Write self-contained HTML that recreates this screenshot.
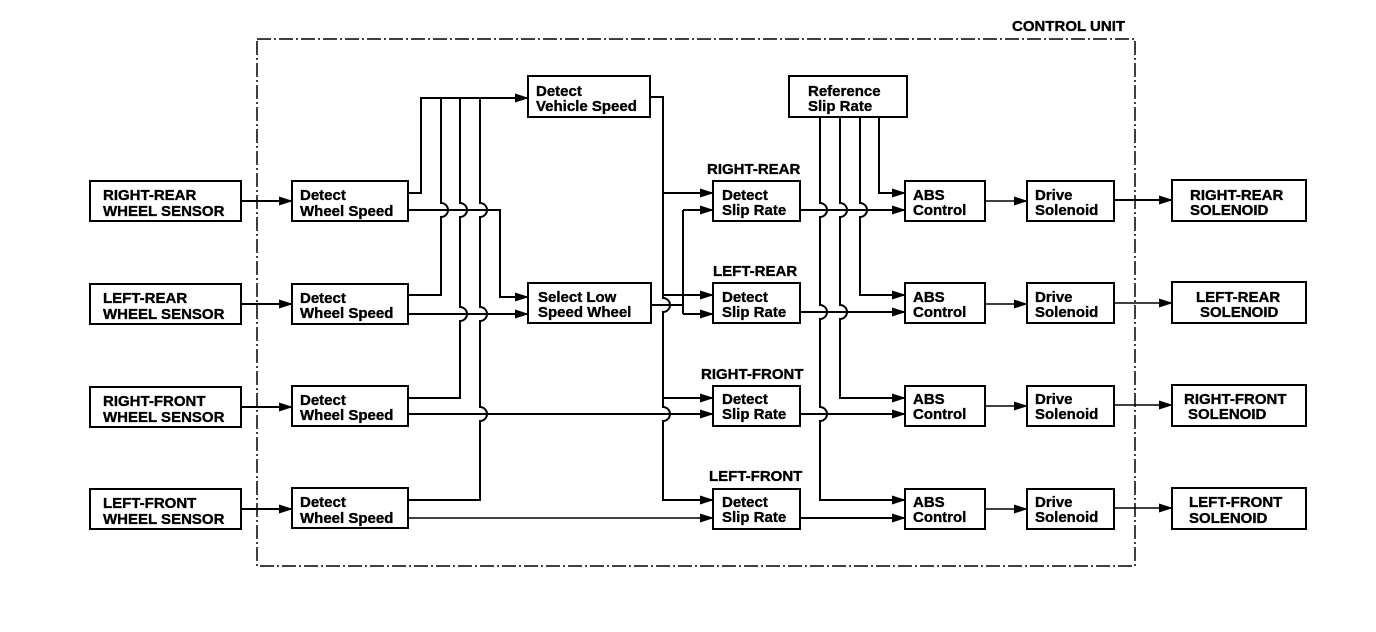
<!DOCTYPE html>
<html><head><meta charset="utf-8"><style>
html,body{margin:0;padding:0;background:#fff;}
svg{display:block;}
text{font-family:"Liberation Sans",sans-serif;font-weight:bold;font-size:15px;fill:#000;stroke:#000;stroke-width:0.35;}
</style></head><body>
<svg width="1376" height="632" viewBox="0 0 1376 632" xmlns="http://www.w3.org/2000/svg">
<defs>
<marker id="a" markerWidth="14" markerHeight="9" refX="13" refY="4.5" orient="auto" markerUnits="userSpaceOnUse">
<path d="M0,0 L14,4.5 L0,9 Z" fill="#000"/>
</marker>
</defs>
<rect x="257" y="39" width="878" height="527" fill="none" stroke="#000" stroke-width="1.5" stroke-dasharray="14,3,2,3"/>
<text x="1012" y="31">CONTROL UNIT</text>

<g fill="#fff" stroke="#000" stroke-width="2">
<rect x="90" y="181" width="151" height="40"/>
<rect x="90" y="284" width="151" height="40"/>
<rect x="90" y="387" width="151" height="40"/>
<rect x="90" y="489" width="151" height="40"/>
<rect x="292" y="181" width="116" height="40"/>
<rect x="292" y="284" width="116" height="40"/>
<rect x="292" y="386" width="116" height="40"/>
<rect x="292" y="488" width="116" height="40"/>
<rect x="528" y="76" width="122" height="41"/>
<rect x="528" y="283" width="123" height="40"/>
<rect x="789" y="76" width="118" height="41"/>
<rect x="713" y="181" width="87" height="40"/>
<rect x="713" y="283" width="87" height="40"/>
<rect x="713" y="386" width="87" height="40"/>
<rect x="713" y="489" width="87" height="40"/>
<rect x="905" y="181" width="80" height="40"/>
<rect x="905" y="283" width="80" height="40"/>
<rect x="905" y="386" width="80" height="40"/>
<rect x="905" y="489" width="80" height="40"/>
<rect x="1027" y="181" width="87" height="40"/>
<rect x="1027" y="283" width="87" height="40"/>
<rect x="1027" y="386" width="87" height="40"/>
<rect x="1027" y="489" width="87" height="40"/>
<rect x="1172" y="180" width="134" height="41"/>
<rect x="1172" y="282" width="134" height="41"/>
<rect x="1172" y="385" width="134" height="41"/>
<rect x="1172" y="488" width="134" height="41"/>
</g>

<g fill="none" stroke="#000" stroke-width="2">
<path d="M241 201H292" marker-end="url(#a)"/>
<path d="M241 304H292" marker-end="url(#a)"/>
<path d="M241 407H292" marker-end="url(#a)"/>
<path d="M241 509H292" marker-end="url(#a)"/>
<path d="M408 193H421V98H528" marker-end="url(#a)"/>
<path d="M408 295H441V217A7 7 0 0 0 441 203V98"/>
<path d="M408 398H460V321A7 7 0 0 0 460 307V217A7 7 0 0 0 460 203V98"/>
<path d="M408 500H480V421A7 7 0 0 0 480 407V321A7 7 0 0 0 480 307V217A7 7 0 0 0 480 203V98"/>
<path d="M408 210H500V297H528" marker-end="url(#a)"/>
<path d="M408 314H528" marker-end="url(#a)"/>
<path d="M408 414H713" marker-end="url(#a)"/>
<path d="M408 518H713" marker-end="url(#a)" stroke-width="1.5"/>
<path d="M650 97H663V298A7 7 0 0 1 663 312V407A7 7 0 0 1 663 421V500H713" marker-end="url(#a)"/>
<path d="M663 193H713" marker-end="url(#a)"/>
<path d="M663 295H713" marker-end="url(#a)"/>
<path d="M663 398H713" marker-end="url(#a)"/>
<path d="M651 305H683"/>
<path d="M683 210V314"/>
<path d="M683 210H713" marker-end="url(#a)"/>
<path d="M683 314H713" marker-end="url(#a)"/>
<path d="M800 210H905" marker-end="url(#a)"/>
<path d="M800 312H905" marker-end="url(#a)"/>
<path d="M800 414H905" marker-end="url(#a)"/>
<path d="M800 518H905" marker-end="url(#a)"/>
<path d="M879 117V193H905" marker-end="url(#a)"/>
<path d="M860 117V203A7 7 0 0 1 860 217V295H905" marker-end="url(#a)"/>
<path d="M840 117V203A7 7 0 0 1 840 217V305A7 7 0 0 1 840 319V398H905" marker-end="url(#a)"/>
<path d="M820 117V203A7 7 0 0 1 820 217V305A7 7 0 0 1 820 319V407A7 7 0 0 1 820 421V500H905" marker-end="url(#a)"/>
<path d="M985 201H1027" marker-end="url(#a)" stroke-width="1.5"/>
<path d="M985 304H1027" marker-end="url(#a)" stroke-width="1.5"/>
<path d="M985 406H1027" marker-end="url(#a)" stroke-width="1.5"/>
<path d="M985 509H1027" marker-end="url(#a)" stroke-width="1.5"/>
<path d="M1114 200H1172" marker-end="url(#a)"/>
<path d="M1114 303H1172" marker-end="url(#a)" stroke-width="1.5"/>
<path d="M1114 405H1172" marker-end="url(#a)" stroke-width="1.5"/>
<path d="M1114 508H1172" marker-end="url(#a)" stroke-width="1.5"/>
</g>

<g>
<text x="103" y="200">RIGHT-REAR</text><text x="103" y="216">WHEEL SENSOR</text>
<text x="103" y="303">LEFT-REAR</text><text x="103" y="319">WHEEL SENSOR</text>
<text x="103" y="406">RIGHT-FRONT</text><text x="103" y="422">WHEEL SENSOR</text>
<text x="103" y="508">LEFT-FRONT</text><text x="103" y="524">WHEEL SENSOR</text>

<text x="300" y="200">Detect</text><text x="300" y="216">Wheel Speed</text>
<text x="300" y="303">Detect</text><text x="300" y="318">Wheel Speed</text>
<text x="300" y="405">Detect</text><text x="300" y="420">Wheel Speed</text>
<text x="300" y="507">Detect</text><text x="300" y="523">Wheel Speed</text>

<text x="536" y="96">Detect</text><text x="536" y="111">Vehicle Speed</text>
<text x="538" y="302">Select Low</text><text x="538" y="317">Speed Wheel</text>
<text x="808" y="96">Reference</text><text x="808" y="111">Slip Rate</text>

<text x="707" y="174">RIGHT-REAR</text>
<text x="713" y="276">LEFT-REAR</text>
<text x="701" y="379">RIGHT-FRONT</text>
<text x="709" y="481">LEFT-FRONT</text>

<text x="722" y="200">Detect</text><text x="722" y="215">Slip Rate</text>
<text x="722" y="302">Detect</text><text x="722" y="317">Slip Rate</text>
<text x="722" y="404">Detect</text><text x="722" y="419">Slip Rate</text>
<text x="722" y="507">Detect</text><text x="722" y="522">Slip Rate</text>

<text x="913" y="200">ABS</text><text x="913" y="215">Control</text>
<text x="913" y="302">ABS</text><text x="913" y="317">Control</text>
<text x="913" y="404">ABS</text><text x="913" y="419">Control</text>
<text x="913" y="507">ABS</text><text x="913" y="522">Control</text>

<text x="1035" y="200">Drive</text><text x="1035" y="215">Solenoid</text>
<text x="1035" y="302">Drive</text><text x="1035" y="317">Solenoid</text>
<text x="1035" y="404">Drive</text><text x="1035" y="419">Solenoid</text>
<text x="1035" y="507">Drive</text><text x="1035" y="522">Solenoid</text>

<text x="1190" y="200">RIGHT-REAR</text><text x="1190" y="215">SOLENOID</text>
<text x="1196" y="302">LEFT-REAR</text><text x="1200" y="317">SOLENOID</text>
<text x="1184" y="404">RIGHT-FRONT</text><text x="1188" y="419">SOLENOID</text>
<text x="1189" y="507">LEFT-FRONT</text><text x="1189" y="523">SOLENOID</text>
</g>
</svg>
</body></html>
